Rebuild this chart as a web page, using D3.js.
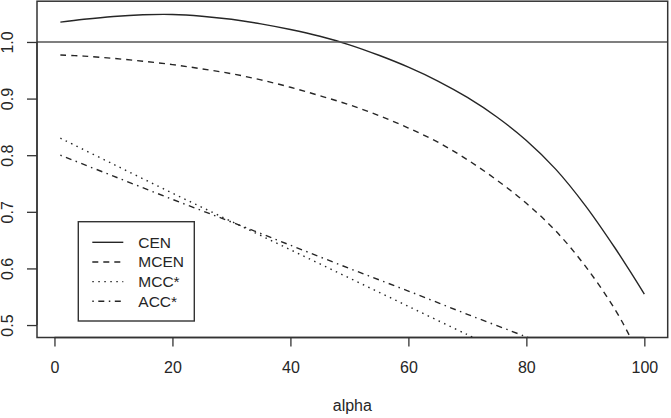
<!DOCTYPE html>
<html>
<head>
<meta charset="utf-8">
<script src="https://cdn.jsdelivr.net/npm/d3@7"></script>
<style>
  html, body { margin: 0; padding: 0; background: #fff; }
  svg { display: block; font-family: "Liberation Sans", Arial, sans-serif; }
</style>
</head>
<body>
<svg id="chart" width="671" height="418"></svg>
<script>
// ---- data ----
const alphaCEN  = [1, 5, 10, 15, 20, 25, 30, 35, 40, 45, 50, 55, 60, 65, 70, 75, 80, 85, 90, 95, 98, 100];
const valuesCEN = [1.035, 1.040, 1.045, 1.048, 1.0485, 1.0455, 1.040, 1.032, 1.022, 1.010, 0.995, 0.9765,
                   0.9555, 0.931, 0.902, 0.8675, 0.826, 0.775, 0.711, 0.6365, 0.588, 0.5545];
const alphaMCEN  = [1, 5, 10, 15, 20, 25, 30, 35, 40, 45, 50, 55, 60, 65, 70, 75, 80, 85, 90, 95, 98, 100];
const valuesMCEN = [0.977, 0.975, 0.971, 0.966, 0.960, 0.9525, 0.944, 0.933, 0.920, 0.905, 0.889, 0.870,
                    0.848, 0.823, 0.792, 0.756, 0.715, 0.666, 0.604, 0.528, 0.470, 0.420];
const alphaMCC  = [1, 10, 20, 30, 40, 50, 60, 70, 75];
const valuesMCC = [0.830, 0.784, 0.733, 0.683, 0.633, 0.583, 0.533, 0.483, 0.458];
const alphaACC  = [1, 10, 20, 30, 40, 50, 60, 70, 80, 85];
const valuesACC = [0.800, 0.763, 0.722, 0.682, 0.641, 0.600, 0.560, 0.519, 0.479, 0.458];
const seriesNames = ["CEN", "MCEN", "MCC*", "ACC*"];
const xTicks = [0, 20, 40, 60, 80, 100];
const yTicks = [0.5, 0.6, 0.7, 0.8, 0.9, 1.0];
const refValue = 1.0;
const xLabel = "alpha";

(function () {
// ---- layout ----
const pLeft = 37, pRight = 667.7, pTop = 1.2, pBottom = 337.5;
const ink = "#262626";
const svg = d3.select("#chart");

const x = d3.scaleLinear().domain([-2.96, 103.96]).range([pLeft, pRight]);
const y = d3.scaleLinear().domain([0.478, 1.072]).range([pBottom, pTop]);

svg.append("clipPath").attr("id", "plotclip")
  .append("rect").attr("x", pLeft).attr("y", pTop)
  .attr("width", pRight - pLeft).attr("height", pBottom - pTop);

const g = svg.append("g").attr("clip-path", "url(#plotclip)");

const series = [
  { name: seriesNames[0], xs: alphaCEN,  ys: valuesCEN,  dash: null },
  { name: seriesNames[1], xs: alphaMCEN, ys: valuesMCEN, dash: "6,5" },
  { name: seriesNames[2], xs: alphaMCC,  ys: valuesMCC,  dash: "1.5,4.5" },
  { name: seriesNames[3], xs: alphaACC,  ys: valuesACC,  dash: "1.5,4.5,6,4.5" }
];

const line = d3.line().x(d => x(d[0])).y(d => y(d[1])).curve(d3.curveCatmullRom);

series.forEach(s => {
  g.append("path")
    .datum(s.xs.map((a, i) => [a, s.ys[i]]))
    .attr("d", line)
    .attr("fill", "none")
    .attr("stroke", ink)
    .attr("stroke-width", 1.4)
    .attr("stroke-dasharray", s.dash);
});

// reference line
g.append("line")
  .attr("x1", pLeft).attr("x2", pRight)
  .attr("y1", y(refValue)).attr("y2", y(refValue))
  .attr("stroke", "#555").attr("stroke-width", 1.6);

// box
svg.append("rect")
  .attr("x", pLeft).attr("y", pTop)
  .attr("width", pRight - pLeft).attr("height", pBottom - pTop)
  .attr("fill", "none").attr("stroke", "#333").attr("stroke-width", 1.5);

// x axis
const xAxis = d3.axisBottom(x).tickValues(xTicks).tickSize(9).tickPadding(15)
  .tickFormat(d3.format("d"));
const xa = svg.append("g").attr("transform", `translate(0,${pBottom})`).call(xAxis);
xa.select(".domain").attr("d", `M${x(xTicks[0])},0H${x(xTicks[xTicks.length-1])}`)
  .attr("stroke", "#333").attr("stroke-width", 1.3);
xa.selectAll(".tick line").attr("stroke", "#333").attr("stroke-width", 1.3);
xa.selectAll(".tick text").attr("font-size", 16).attr("fill", ink)
  .attr("font-family", "Liberation Sans, Arial, sans-serif");

// y axis
const yAxis = d3.axisLeft(y).tickValues(yTicks).tickSize(10).tickFormat(d3.format(".1f"));
const ya = svg.append("g").attr("transform", `translate(${pLeft},0)`).call(yAxis);
ya.select(".domain").attr("d", `M0,${y(yTicks[0])}V${y(yTicks[yTicks.length-1])}`)
  .attr("stroke", "#333").attr("stroke-width", 1.3);
ya.selectAll(".tick line").attr("stroke", "#333").attr("stroke-width", 1.3);
ya.selectAll(".tick text")
  .attr("font-size", 16).attr("fill", ink)
  .attr("font-family", "Liberation Sans, Arial, sans-serif")
  .attr("text-anchor", "middle")
  .attr("dy", null)
  .attr("x", null)
  .attr("transform", `translate(${13.3 - pLeft},0) rotate(-90)`);

// x label
svg.append("text")
  .attr("x", (pLeft + pRight) / 2).attr("y", 411)
  .attr("text-anchor", "middle").attr("font-size", 16).attr("fill", ink)
  .text(xLabel);

// legend
const lg = svg.append("g");
lg.append("rect").attr("x", 78.3).attr("y", 221.7).attr("width", 116).attr("height", 99.3)
  .attr("fill", "#fff").attr("stroke", "#333").attr("stroke-width", 1.4);
const rowY = d3.scaleLinear().domain([0, 3]).range([242.3, 301.3]);
series.forEach((s, i) => {
  const yy = rowY(i);
  lg.append("line").attr("x1", 92.3).attr("x2", 123.3).attr("y1", yy).attr("y2", yy)
    .attr("stroke", ink).attr("stroke-width", 1.4).attr("stroke-dasharray", s.dash);
  lg.append("text").attr("x", 138.3).attr("y", yy + 5.5)
    .attr("font-size", 15.5).attr("fill", ink).text(s.name);
});
})();
</script>
</body>
</html>
